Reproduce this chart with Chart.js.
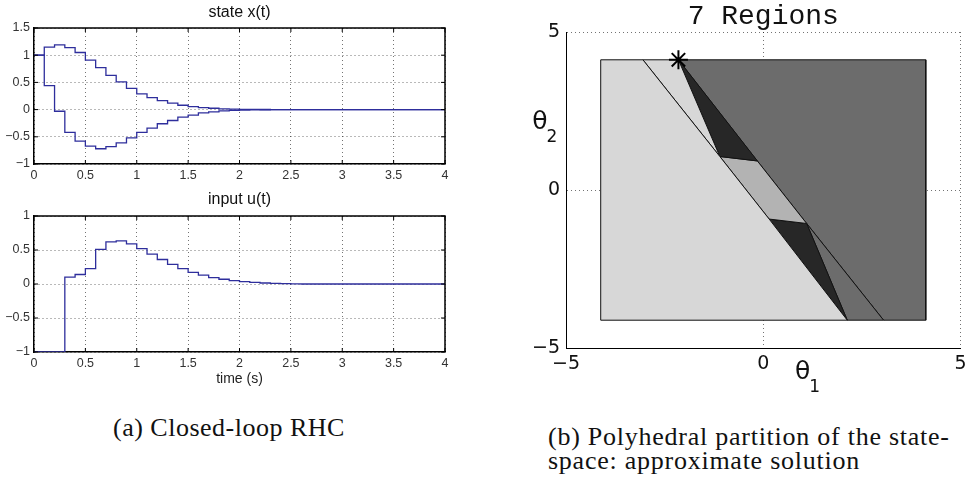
<!DOCTYPE html>
<html>
<head>
<meta charset="utf-8">
<script src="https://cdn.jsdelivr.net/npm/chart.js@4.4.1/dist/chart.umd.min.js"></script>
<style>
  html, body { margin: 0; padding: 0; background: #fff; }
  body { position: relative; width: 972px; height: 481px; overflow: hidden; }
  canvas { position: absolute; }
  #stateChart { left: 0; top: 0; }
  #inputChart { left: 0; top: 188px; }
  #partitionChart { left: 490px; top: 0; }
  .caption {
    position: absolute;
    font-family: "Liberation Serif", "Times New Roman", serif;
    font-size: 26px;
    line-height: 24px;
    letter-spacing: 0.5px;
    color: #111;
    white-space: nowrap;
  }
  #captionA { left: 113px; top: 416px; }
  #captionB { left: 548px; top: 425px; letter-spacing: 0.75px; }
</style>
</head>
<body>
<canvas id="stateChart" width="480" height="190"></canvas>
<canvas id="inputChart" width="480" height="204"></canvas>
<canvas id="partitionChart" width="482" height="400"></canvas>
<div class="caption" id="captionA">(a) Closed-loop RHC</div>
<div class="caption" id="captionB">(b) Polyhedral partition of the state-<br>space: approximate solution</div>

<script>
// sample instants of the closed-loop simulation (s)
const timeSteps = [
  0, 0.1, 0.2, 0.3, 0.4, 0.5, 0.6, 0.7, 0.8, 0.9,
  1.0, 1.1, 1.2, 1.3, 1.4, 1.5, 1.6, 1.7, 1.8, 1.9,
  2.0, 2.1, 2.2, 2.3, 2.4, 2.5, 2.6, 2.7, 2.8, 2.9,
  3.0, 3.1, 3.2, 3.3, 3.4, 3.5, 3.6, 3.7, 3.8, 3.9, 4.0,
];

const stateX1 = [
  1.0, 1.15, 1.19, 1.14, 1.05, 0.91, 0.77, 0.63, 0.51, 0.39,
  0.29, 0.22, 0.165, 0.12, 0.08, 0.055, 0.035, 0.025, 0.012, 0.008,
  0.005, 0.003, 0.002, 0.001, 0, 0, 0, 0, 0, 0,
  0, 0, 0, 0, 0, 0, 0, 0, 0, 0, 0,
];

const stateX2 = [
  1.0, 0.44, -0.03, -0.42, -0.58, -0.67, -0.72, -0.68, -0.61, -0.52,
  -0.42, -0.34, -0.26, -0.2, -0.14, -0.1, -0.06, -0.04, -0.025, -0.015,
  -0.01, -0.006, -0.004, -0.002, -0.001, 0, 0, 0, 0, 0,
  0, 0, 0, 0, 0, 0, 0, 0, 0, 0, 0,
];

const inputU = [
  -1, -1, -1, 0.1, 0.14, 0.225, 0.51, 0.62, 0.635, 0.59,
  0.52, 0.44, 0.36, 0.29, 0.225, 0.17, 0.13, 0.095, 0.07, 0.05,
  0.035, 0.025, 0.015, 0.01, 0.005, 0.002, 0, 0, 0, 0,
  0, 0, 0, 0, 0, 0, 0, 0, 0, 0, 0,
];

// polyhedral partition, vertices as [theta1, theta2]
const regionLightLeft = [[-4.12, 4.12], [-3.05, 4.12], [-1.1, 1.06], [0.15, -0.92], [2.13, -4.12], [-4.12, -4.12]];
const regionLightSliver = [[-3.05, 4.12], [-2.15, 4.12], [-1.1, 1.06]];
const regionDarkUpper = [[-2.15, 4.12], [-0.15, 0.92], [-1.1, 1.06]];
const regionMiddle = [[-1.1, 1.06], [-0.15, 0.92], [1.1, -1.06], [0.15, -0.92]];
const regionDarkLower = [[0.15, -0.92], [1.1, -1.06], [2.13, -4.12]];
const regionGreySliver = [[1.1, -1.06], [3.05, -4.12], [2.13, -4.12]];
const regionGreyRight = [[-2.15, 4.12], [4.12, 4.12], [4.12, -4.12], [3.05, -4.12], [1.1, -1.06], [-0.15, 0.92]];
const initialState = [-2.15, 4.12];

const lineBlue = "#2e2e9c";
const gridDots = "rgba(0, 0, 0, 0.55)";
const minus = (v) => String(v).replace("-", "\u2212");

// MATLAB style closed box with inward tick marks
const matlabBox = {
  id: "matlabBox",
  afterDraw(chart) {
    const { ctx, chartArea, scales } = chart;
    const { left, right, top, bottom } = chartArea;
    ctx.save();
    ctx.strokeStyle = "#000";
    ctx.lineWidth = 1.5;
    ctx.beginPath();
    ctx.moveTo(left, top);
    ctx.lineTo(right, top);
    ctx.lineTo(right, bottom);
    ctx.stroke();

    ctx.lineWidth = 1;
    ctx.beginPath();
    scales.x.ticks.forEach((t) => {
      const px = scales.x.getPixelForValue(t.value);
      ctx.moveTo(px, bottom);
      ctx.lineTo(px, bottom - 4);
      ctx.moveTo(px, top);
      ctx.lineTo(px, top + 4);
    });
    scales.y.ticks.forEach((t) => {
      const py = scales.y.getPixelForValue(t.value);
      ctx.moveTo(left, py);
      ctx.lineTo(left + 4, py);
      ctx.moveTo(right, py);
      ctx.lineTo(right - 4, py);
    });
    ctx.stroke();
    ctx.restore();
  },
};

function stairsChart(id, title, series, yMin, yMax, xTitle, xHeight, titlePad) {
  return new Chart(document.getElementById(id), {
    type: "line",
    data: {
      datasets: series.map((values) => ({
        data: timeSteps.map((t, i) => ({ x: t, y: values[i] })),
        stepped: "before",
        borderColor: lineBlue,
        borderWidth: 1.3,
        pointRadius: 0,
        fill: false,
      })),
    },
    options: {
      responsive: false,
      animation: false,
      layout: { padding: { left: 0, right: 35, top: 0, bottom: 0 } },
      plugins: {
        legend: { display: false },
        tooltip: { enabled: false },
        title: {
          display: true,
          text: title,
          fullSize: false,
          color: "#111",
          font: { family: "Liberation Sans", size: 16, weight: "normal", lineHeight: 1.2 },
          padding: titlePad,
        },
      },
      scales: {
        x: {
          type: "linear",
          min: 0,
          max: 4,
          afterFit: (scale) => {
            scale.height = xHeight;
          },
          ticks: {
            stepSize: 0.5,
            autoSkip: false,
            maxRotation: 0,
            padding: 4,
            color: "#333",
            font: { family: "Liberation Sans", size: 12.5 },
            callback: minus,
          },
          grid: { color: gridDots, drawTicks: false },
          border: { color: "#000", width: 1.5, dash: [1, 3] },
          title: {
            display: !!xTitle,
            text: xTitle,
            color: "#222",
            font: { family: "Liberation Sans", size: 14 },
            padding: { top: 0, bottom: 4 },
          },
        },
        y: {
          min: yMin,
          max: yMax,
          afterFit: (scale) => {
            scale.width = 34;
          },
          ticks: {
            stepSize: 0.5,
            padding: 4,
            color: "#333",
            font: { family: "Liberation Sans", size: 12.5 },
            callback: minus,
          },
          grid: { color: gridDots, drawTicks: false },
          border: { color: "#000", width: 1.5, dash: [1, 3] },
        },
      },
    },
    plugins: [matlabBox],
  });
}

stairsChart("stateChart", "state x(t)", [stateX1, stateX2], -1, 1.5, "", 26, { top: 3, bottom: 5.8 });
stairsChart("inputChart", "input u(t)", [inputU], -1, 1, "time (s)", 40, { top: 2, bottom: 6.8 });

// theta_1 / theta_2 axis labels with subscripts
const thetaLabels = {
  id: "thetaLabels",
  afterDraw(chart) {
    const { ctx, chartArea, scales } = chart;
    const label = (px, py, sub) => {
      ctx.font = '25px "DejaVu Sans"';
      ctx.fillText("\u03b8", px, py);
      ctx.font = '17px "DejaVu Sans"';
      ctx.fillText(sub, px + 12, py + 16);
    };
    ctx.save();
    ctx.fillStyle = "#111";
    ctx.textAlign = "center";
    ctx.textBaseline = "middle";
    label(scales.x.getPixelForValue(1), chartArea.bottom + 24, "1");
    label(chartArea.left - 26, scales.y.getPixelForValue(2.15), "2");
    ctx.restore();
  },
};

const polygon = (pts, color) => ({
  data: [...pts, pts[0]].map(([x, y]) => ({ x, y })),
  backgroundColor: color,
  borderColor: "#111",
  borderWidth: 1,
  pointRadius: 0,
  fill: "shape",
  showLine: true,
  tension: 0,
});

new Chart(document.getElementById("partitionChart"), {
  type: "line",
  data: {
    datasets: [
      {
        data: [{ x: initialState[0], y: initialState[1] }],
        showLine: false,
        pointStyle: "star",
        pointRadius: 9.5,
        pointBorderWidth: 2,
        pointBorderColor: "#000",
        borderColor: "#000",
      },
      polygon(regionLightLeft, "#d7d7d7"),
      polygon(regionLightSliver, "#d7d7d7"),
      polygon(regionDarkUpper, "#272727"),
      polygon(regionMiddle, "#b3b3b3"),
      polygon(regionDarkLower, "#272727"),
      polygon(regionGreySliver, "#6c6c6c"),
      polygon(regionGreyRight, "#6c6c6c"),
    ],
  },
  options: {
    responsive: false,
    animation: false,
    layout: { padding: { left: 0, right: 6, top: 0, bottom: 0 } },
    plugins: {
      legend: { display: false },
      tooltip: { enabled: false },
      title: {
        display: true,
        text: "7 Regions",
        fullSize: false,
        color: "#111",
        font: { family: "Liberation Mono", size: 28, weight: "normal", lineHeight: 1 },
        padding: { top: 3, bottom: 1 },
      },
    },
    scales: {
      x: {
        type: "linear",
        min: -5,
        max: 5,
        afterFit: (scale) => {
          scale.height = 52;
        },
        ticks: {
          stepSize: 5,
          maxRotation: 0,
          padding: 5,
          color: "#111",
          font: { family: "DejaVu Sans", size: 19 },
          callback: minus,
        },
        grid: { color: gridDots, drawTicks: false },
        border: { color: "#000", width: 1, dash: [1, 3] },
      },
      y: {
        type: "linear",
        min: -5,
        max: 5,
        afterFit: (scale) => {
          scale.width = 76;
        },
        ticks: {
          stepSize: 5,
          padding: 6,
          color: "#111",
          font: { family: "DejaVu Sans", size: 19 },
          callback: minus,
        },
        grid: { color: gridDots, drawTicks: false },
        border: { color: "#000", width: 1, dash: [1, 3] },
      },
    },
  },
  plugins: [thetaLabels],
});
</script>
</body>
</html>
